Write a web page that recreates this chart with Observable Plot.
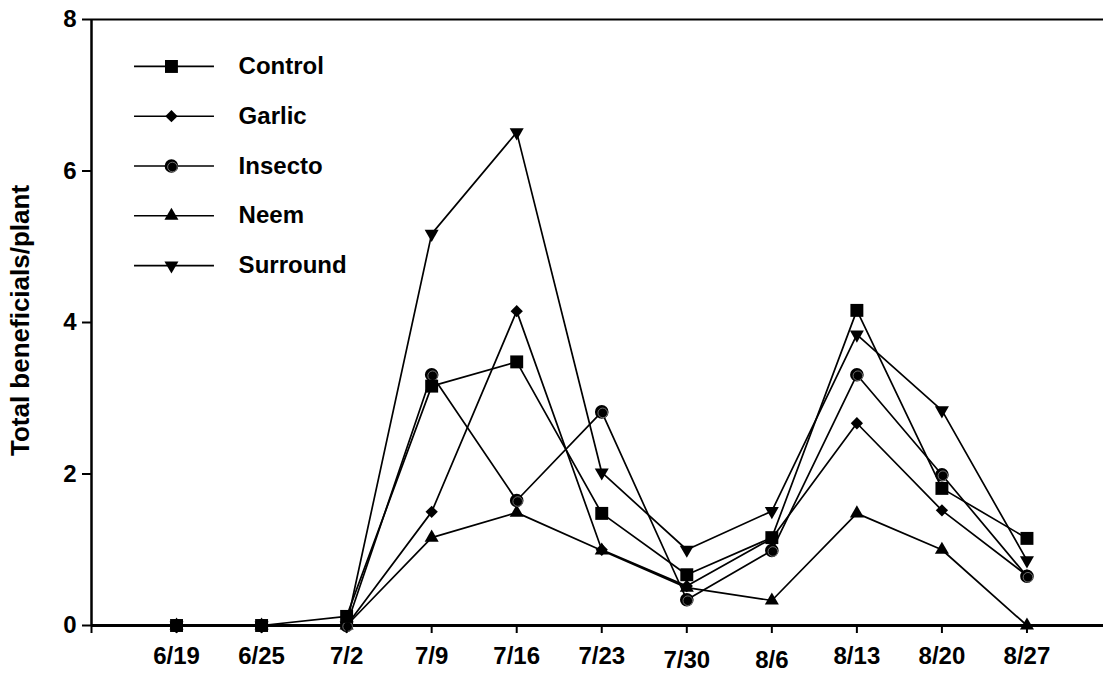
<!DOCTYPE html>
<html><head><meta charset="utf-8">
<script src="https://cdn.jsdelivr.net/npm/d3@7"></script>
<script src="https://cdn.jsdelivr.net/npm/@observablehq/plot@0.6"></script>
<style>body{margin:0;background:#fff}</style>
</head><body><div id="chart"></div>
<script>
const dates = ["6/19","6/25","7/2","7/9","7/16","7/23","7/30","8/6","8/13","8/20","8/27"];
const seriesNames = ["Control","Garlic","Insecto","Neem","Surround"];
const control  = [0,0,0.12,3.16,3.48,1.48,0.67,1.16,4.16,1.81,1.15];
const garlic   = [0,0,0,1.50,4.15,1.00,0.52,1.15,2.67,1.52,0.66];
const insecto  = [0,0,0,3.31,1.65,2.82,0.34,0.99,3.31,1.99,0.65];
const neem     = [0,0,0,1.16,1.49,0.99,0.50,0.33,1.48,1.00,0];
const surround = [0,0,0,5.17,6.51,2.02,1.00,1.51,3.84,2.84,0.86];
const yTicks = [0,2,4,6,8];
const yLabel = "Total beneficials/plant";

const seriesValues = {Control: control, Garlic: garlic, Insecto: insecto, Neem: neem, Surround: surround};
const markerStyle = {
  Control:  {symbol: "square",   rotate: 0,   r: 7.3},
  Garlic:   {symbol: "square",   rotate: 45,  r: 4.9},
  Insecto:  {symbol: "circle",   rotate: 0,   r: 6.8},
  Neem:     {symbol: "triangle", rotate: 0,   r: 5.2},
  Surround: {symbol: "triangle", rotate: 180, r: 5.2}
};
const drawOrder = ["Neem","Surround","Garlic","Insecto","Control"];

const rows = [];
for (const s of seriesNames) seriesValues[s].forEach((v, i) => rows.push({series: s, i, value: v}));

// legend rows (in data coordinates of the plot frame)
const legendRows = seriesNames.map((s, k) => ({series: s, y: 7.38 - k * 0.657}));

const lowered = [6, 7]; // tick labels drawn slightly lower in the original
const marks = [];
// axis lines
marks.push(Plot.ruleY([8], {x1: -1, x2: 10.9, stroke: "#000", strokeWidth: 2}));
marks.push(Plot.ruleY([0], {x1: -1, x2: 10.9, stroke: "#000", strokeWidth: 3}));
marks.push(Plot.ruleX([-1], {y1: 0, y2: 8, stroke: "#000", strokeWidth: 2.5}));
// series lines
marks.push(Plot.line(rows, {x: "i", y: "value", z: "series", stroke: "#000", strokeWidth: 1.7}));
// markers
for (const s of drawOrder) {
  const m = markerStyle[s];
  const d = rows.filter(r => r.series === s);
  marks.push(Plot.dot(d, {x: "i", y: "value", symbol: () => m.symbol, r: m.r, rotate: m.rotate, fill: "#000", stroke: "none"}));
  if (s === "Insecto") marks.push(Plot.dot(d, {x: "i", y: "value", r: 4.8, dx: 1, dy: 1, fill: "none", stroke: "#8a8a8a", strokeWidth: 0.8}));
}
// legend
marks.push(Plot.link(legendRows, {x1: () => -0.5, x2: () => 0.44, y1: "y", y2: "y", stroke: "#000", strokeWidth: 1.7}));
for (const s of seriesNames) {
  const m = markerStyle[s];
  const d = legendRows.filter(r => r.series === s);
  marks.push(Plot.dot(d, {x: () => -0.06, y: "y", symbol: () => m.symbol, r: m.r, rotate: m.rotate, fill: "#000", stroke: "none"}));
  if (s === "Insecto") marks.push(Plot.dot(d, {x: () => -0.06, y: "y", r: 4.8, dx: 1, dy: 1, fill: "none", stroke: "#8a8a8a", strokeWidth: 0.8}));
}
marks.push(Plot.text(legendRows, {x: () => 0.73, y: "y", text: "series", textAnchor: "start", fontSize: 24, fontWeight: "bold", fill: "#000"}));
// axes
marks.push(Plot.axisX({ticks: d3.range(-1, 11), tickFormat: i => (i < 0 || lowered.includes(i)) ? "" : dates[i], tickSize: 8, tickPadding: 13, strokeWidth: 2, fontSize: 24, fontWeight: "bold", label: null}));
marks.push(Plot.axisX({ticks: lowered, tickFormat: i => dates[i], tickSize: 0, tickPadding: 25, fontSize: 24, fontWeight: "bold", label: null}));
marks.push(Plot.axisY({ticks: yTicks, tickFormat: d => String(d), tickSize: 9, tickPadding: 6, strokeWidth: 2, fontSize: 24, fontWeight: "bold", label: null}));
marks.push(Plot.text([yLabel], {frameAnchor: "left", textAnchor: "middle", lineAnchor: "middle", rotate: -90, dx: -71, dy: -2, fontSize: 26, fontWeight: "bold", fill: "#000"}));

const chart = Plot.plot({
  width: 1103, height: 675,
  marginLeft: 91, marginRight: 0, marginTop: 19, marginBottom: 50,
  x: {type: "linear", domain: [-1, 10.9]},
  y: {domain: [0, 8]},
  style: {fontFamily: "'Liberation Sans', Arial, sans-serif", fontWeight: "bold", fontSize: "24px", color: "#000", background: "#fff", overflow: "visible"},
  marks
});
document.getElementById("chart").appendChild(chart);
</script>
</body></html>
